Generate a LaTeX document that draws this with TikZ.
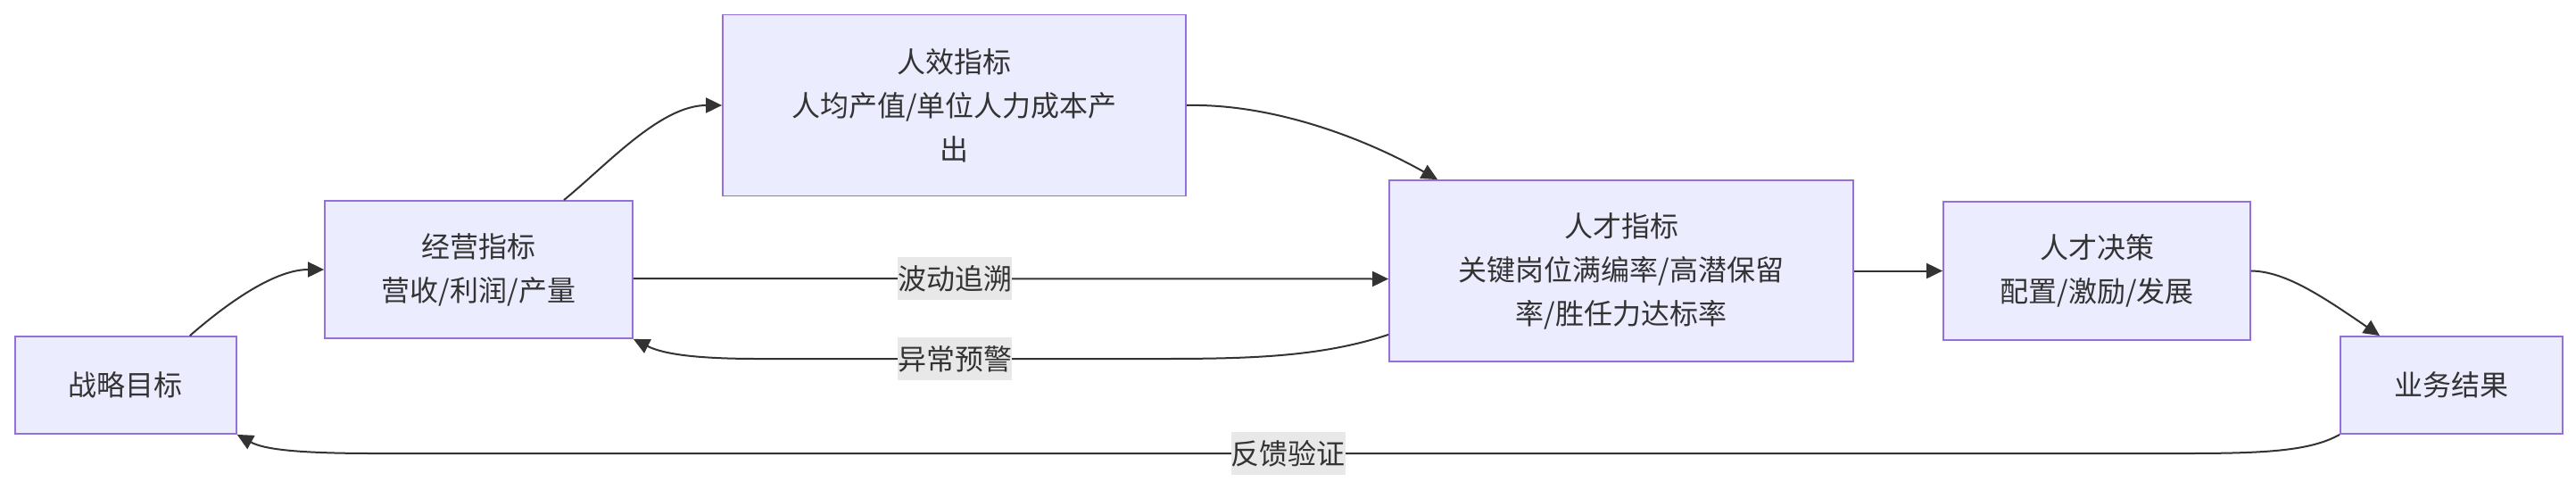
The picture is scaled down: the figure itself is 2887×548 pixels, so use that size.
\documentclass[tikz,border=0pt]{standalone}
\usepackage{fontspec}
\newfontfamily\cjk{Noto Sans CJK SC}
\usetikzlibrary{arrows.meta,calc}
\definecolor{nodefill}{HTML}{ECECFF}
\definecolor{nodeborder}{HTML}{9370DB}
\definecolor{ink}{HTML}{333333}
\definecolor{lblbg}{HTML}{E8E8E8}
\begin{document}
\begin{tikzpicture}[x=0.5pt,y=-0.5pt,
 box/.style={draw=nodeborder,fill=nodefill,line width=0.9pt,inner sep=0pt,align=center,text=ink,font=\cjk\fontsize{16pt}{24.5pt}\selectfont},
 link/.style={draw=ink,line width=1pt,-{Triangle[length=9pt,width=8.5pt]}},
 lbl/.style={fill=lblbg,text=ink,inner xsep=0pt,inner ysep=0pt,minimum height=24pt,font=\cjk\fontsize{16pt}{20pt}\selectfont}]
\useasboundingbox (0,0) rectangle (2887,548);
\node[box,minimum width=124pt,minimum height=54.5pt] (A) at (140.8,431.5) {战略目标};
\node[box,minimum width=172.5pt,minimum height=77pt] (B) at (536.5,302) {经营指标\\营收/利润/产量};
\node[box,minimum width=259.5pt,minimum height=101.5pt] (C) at (1069.5,118) {人效指标\\人均产值/单位人力成本产\\出};
\node[box,minimum width=260pt,minimum height=101.5pt] (D) at (1817,303.5) {人才指标\\关键岗位满编率/高潜保留\\率/胜任力达标率};
\node[box,minimum width=172pt,minimum height=77.5pt] (E) at (2350,303.5) {人才决策\\配置/激励/发展};
\node[box,minimum width=124.5pt,minimum height=54.5pt] (F) at (2747.5,431.5) {业务结果};

\draw[link] ($(A.north)+(72,0)$) .. controls (260,335) and (310,302) .. (B.west);
\draw[link] ($(B.north)+(95.5,0)$) .. controls (680,185) and (740,118) .. (C.west);
\draw[link] (C.east) .. controls (1420,116) and (1520,150) .. ($(D.north west)+(55,0)$);
\draw[link] ($(B.east)+(0,10)$) -- node[lbl,pos=0.426] {波动追溯} ($(D.west)+(0,9)$);
\draw[link] ($(D.south west)+(0,-31)$) .. controls (1480,400) and (1400,402) .. (1300,402)
  -- node[lbl,pos=0.511] {异常预警} (850,402) .. controls (770,402) and (740,395) .. (B.south east);
\draw[link] (D.east) -- (E.west);
\draw[link] (E.east) .. controls (2560,304) and (2600,330) .. ($(F.north)+(-80.5,0)$);
\draw[link] (F.south west) .. controls (2590,505) and (2540,508) .. (2450,508)
  -- node[lbl,pos=0.4956] {反馈验证} (420,508) .. controls (330,508) and (295,503) .. (A.south east);
\end{tikzpicture}
\end{document}
